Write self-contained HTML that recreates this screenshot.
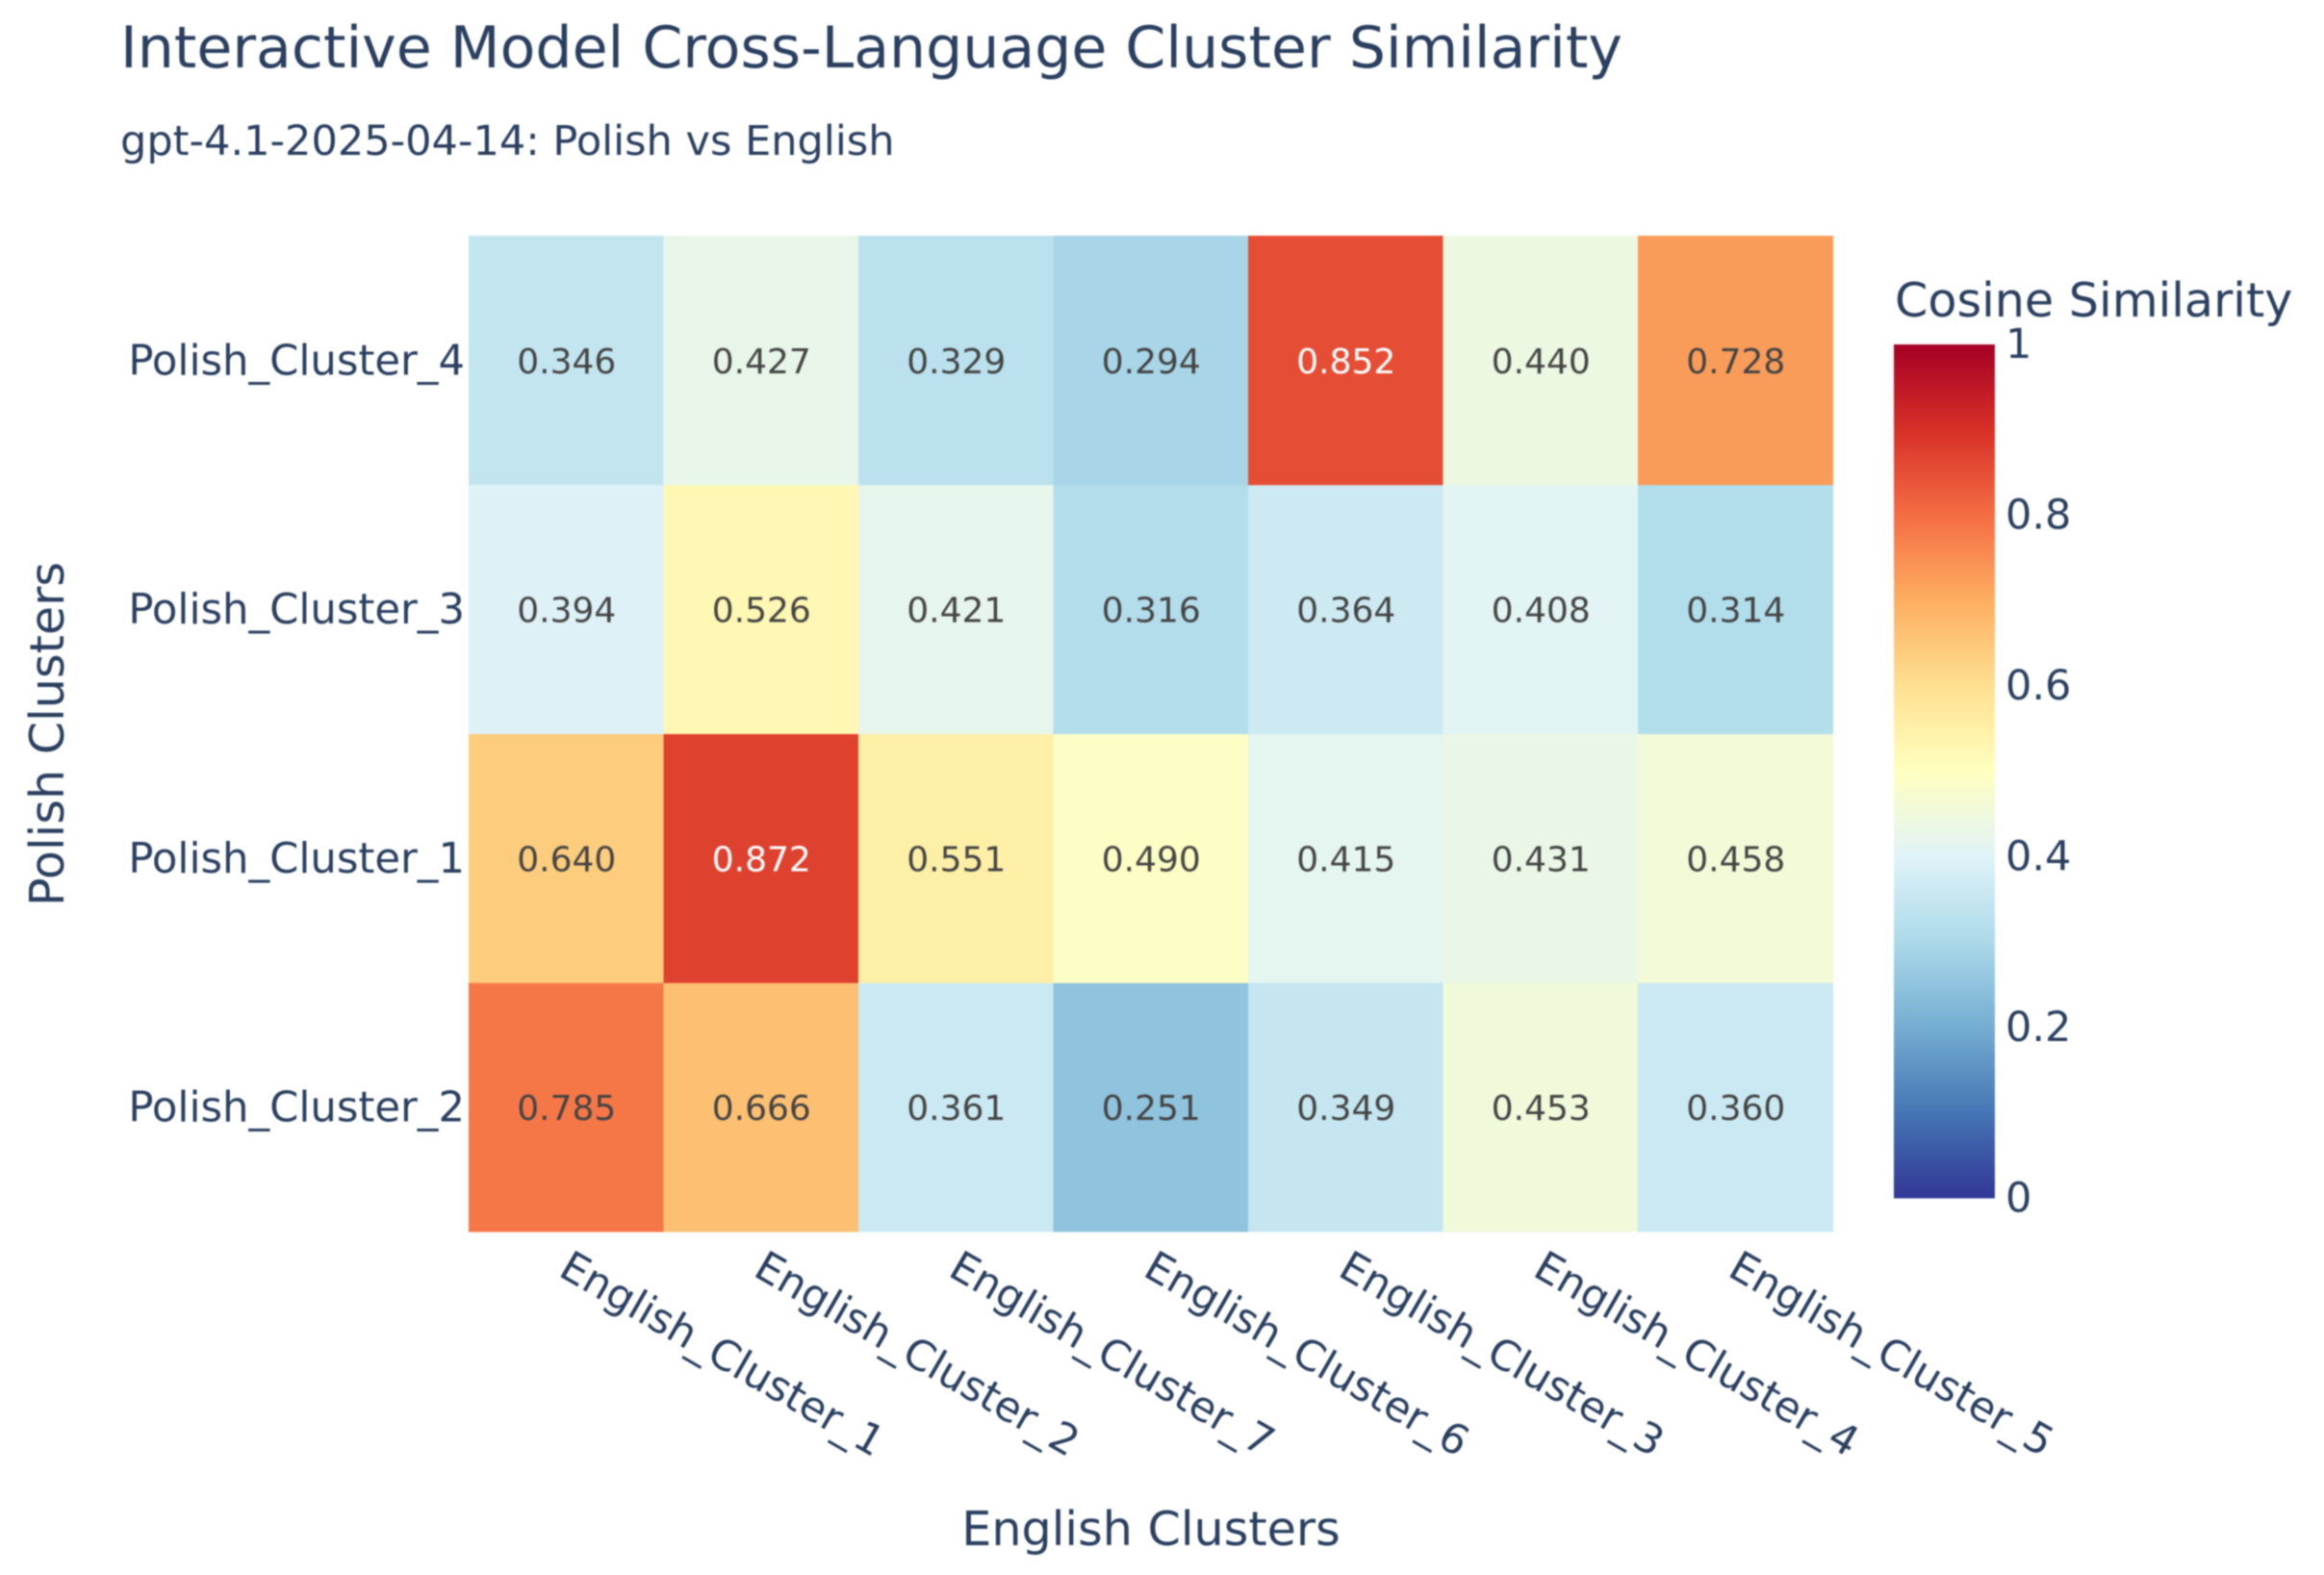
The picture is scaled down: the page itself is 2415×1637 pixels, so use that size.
<!DOCTYPE html>
<html lang="en">
<head>
<meta charset="utf-8">
<title>Interactive Model Cross-Language Cluster Similarity</title>
<style>
  html, body { margin: 0; padding: 0; background: #ffffff; }
  svg { display: block; filter: blur(0.7px); }
  text { font-family: "DejaVu Sans", "Liberation Sans", sans-serif; fill: #2a3f5f; }
</style>
</head>
<body>
<svg id="chart" xmlns="http://www.w3.org/2000/svg" width="2415" height="1637" viewBox="0 0 2415 1637">
  <defs>
    <linearGradient id="cb-gradient" x1="0" y1="1" x2="0" y2="0"></linearGradient>
  </defs>
  <rect x="0" y="0" width="2415" height="1637" fill="#ffffff"></rect>
  <text x="125" y="70" font-size="60.1">Interactive Model Cross-Language Cluster Similarity</text>
  <text x="125" y="161" font-size="43.05">gpt-4.1-2025-04-14: Polish vs English</text>
  <g id="cells"></g>
  <g id="cell-labels"></g>
  <g id="y-ticks"></g>
  <g id="x-ticks"></g>
  <text x="1196" y="1606" font-size="49.2" text-anchor="middle">English Clusters</text>
  <text transform="translate(66 763) rotate(-90)" font-size="49.2" text-anchor="middle">Polish Clusters</text>
  <text x="1969" y="329" font-size="49.2">Cosine Similarity</text>
  <rect id="cb-rect" fill="url(#cb-gradient)"></rect>
  <g id="cb-ticks"></g>
</svg>
<script>
const xCategories = ["English_Cluster_1", "English_Cluster_2", "English_Cluster_7", "English_Cluster_6", "English_Cluster_3", "English_Cluster_4", "English_Cluster_5"];
const yCategories = ["Polish_Cluster_2", "Polish_Cluster_1", "Polish_Cluster_3", "Polish_Cluster_4"];
const rowCluster2 = [0.785, 0.666, 0.361, 0.251, 0.349, 0.453, 0.360];
const rowCluster1 = [0.640, 0.872, 0.551, 0.490, 0.415, 0.431, 0.458];
const rowCluster3 = [0.394, 0.526, 0.421, 0.316, 0.364, 0.408, 0.314];
const rowCluster4 = [0.346, 0.427, 0.329, 0.294, 0.852, 0.440, 0.728];
const zValues = [rowCluster2, rowCluster1, rowCluster3, rowCluster4];
const colorbarTicks = [0, 0.2, 0.4, 0.6, 0.8, 1];
const colorbarTickLabels = ["0", "0.2", "0.4", "0.6", "0.8", "1"];
const colorscale = [
  [49, 54, 149], [69, 117, 180], [116, 173, 209], [171, 217, 233], [224, 243, 248], [255, 255, 191],
  [254, 224, 144], [253, 174, 97], [244, 109, 67], [215, 48, 39], [165, 0, 38]
];

const SVG_NS = "http://www.w3.org/2000/svg";
const plot = { left: 487, right: 1904.5, top: 245, bottom: 1280 };
const bar = { left: 1968, right: 2073, top: 358, bottom: 1245.5 };

const xBand = (plot.right - plot.left) / xCategories.length;
const yBand = (plot.bottom - plot.top) / yCategories.length;
function xEdge(i) { return plot.left + i * xBand; }
function xCenter(i) { return xEdge(i) + xBand / 2; }
function yEdge(j) { return plot.bottom - (j + 1) * yBand; }
function yCenter(j) { return yEdge(j) + yBand / 2; }
function barY(v) { return bar.bottom - v * (bar.bottom - bar.top); }

function colorFor(v) {
  const t = Math.max(0, Math.min(1, v)) * (colorscale.length - 1);
  const lo = Math.floor(t);
  const hi = Math.min(lo + 1, colorscale.length - 1);
  const f = t - lo;
  const c = colorscale[lo].map(function (a, k) { return Math.round(a + (colorscale[hi][k] - a) * f); });
  return "rgb(" + c.join(",") + ")";
}
function labelColor(v) { return v > 0.8 || v < 0.15 ? "#ffffff" : "#444444"; }

const cellsGroup = document.getElementById("cells");
const cellLabelsGroup = document.getElementById("cell-labels");
const yTicksGroup = document.getElementById("y-ticks");
const xTicksGroup = document.getElementById("x-ticks");
const cbTicksGroup = document.getElementById("cb-ticks");
const gradient = document.getElementById("cb-gradient");
const cbRect = document.getElementById("cb-rect");

zValues.forEach(function (row, j) {
  row.forEach(function (value, i) {
    const cell = document.createElementNS(SVG_NS, "rect");
    
    
    cell.setAttribute("x", xEdge(i));
    cell.setAttribute("y", yEdge(j));
    cell.setAttribute("width", xBand + 0.5);
    cell.setAttribute("height", yBand + 0.5);
    cell.setAttribute("fill", colorFor(value));
    cellsGroup.appendChild(cell);

    const label = document.createElementNS(SVG_NS, "text");
    
    
    label.setAttribute("x", xCenter(i) + 0.5);
    label.setAttribute("y", yCenter(j) + 13.5);
    label.setAttribute("font-size", "36");
    label.setAttribute("text-anchor", "middle");
    label.style.fill = labelColor(value);
    label.textContent = value.toFixed(3);
    cellLabelsGroup.appendChild(label);
  });
});

yCategories.forEach(function (name, j) {
  const tick = document.createElementNS(SVG_NS, "text");
  
  
  tick.setAttribute("x", 483);
  tick.setAttribute("y", yCenter(j) + 15);
  tick.setAttribute("font-size", "43.3");
  tick.setAttribute("text-anchor", "end");
  tick.textContent = name;
  yTicksGroup.appendChild(tick);
});

xCategories.forEach(function (name, i) {
  const tick = document.createElementNS(SVG_NS, "text");
  
  
  tick.setAttribute("transform", "translate(" + (xCenter(i) - 9.5) + " 1325) rotate(30)");
  tick.setAttribute("font-size", "43.2");
  tick.textContent = name;
  xTicksGroup.appendChild(tick);
});

colorscale.forEach(function (c, k) {
  const stop = document.createElementNS(SVG_NS, "stop");
  
  
  stop.setAttribute("offset", k / (colorscale.length - 1));
  stop.setAttribute("stop-color", "rgb(" + c.join(",") + ")");
  gradient.appendChild(stop);
});

cbRect.setAttribute("x", bar.left);
cbRect.setAttribute("y", bar.top);
cbRect.setAttribute("width", bar.right - bar.left);
cbRect.setAttribute("height", bar.bottom - bar.top);

colorbarTicks.forEach(function (value, k) {
  const tick = document.createElementNS(SVG_NS, "text");
  
  
  tick.setAttribute("x", 2084);
  tick.setAttribute("y", barY(value) + 14);
  tick.setAttribute("font-size", "43");
  tick.textContent = colorbarTickLabels[k];
  cbTicksGroup.appendChild(tick);
});
</script>
</body>
</html>
